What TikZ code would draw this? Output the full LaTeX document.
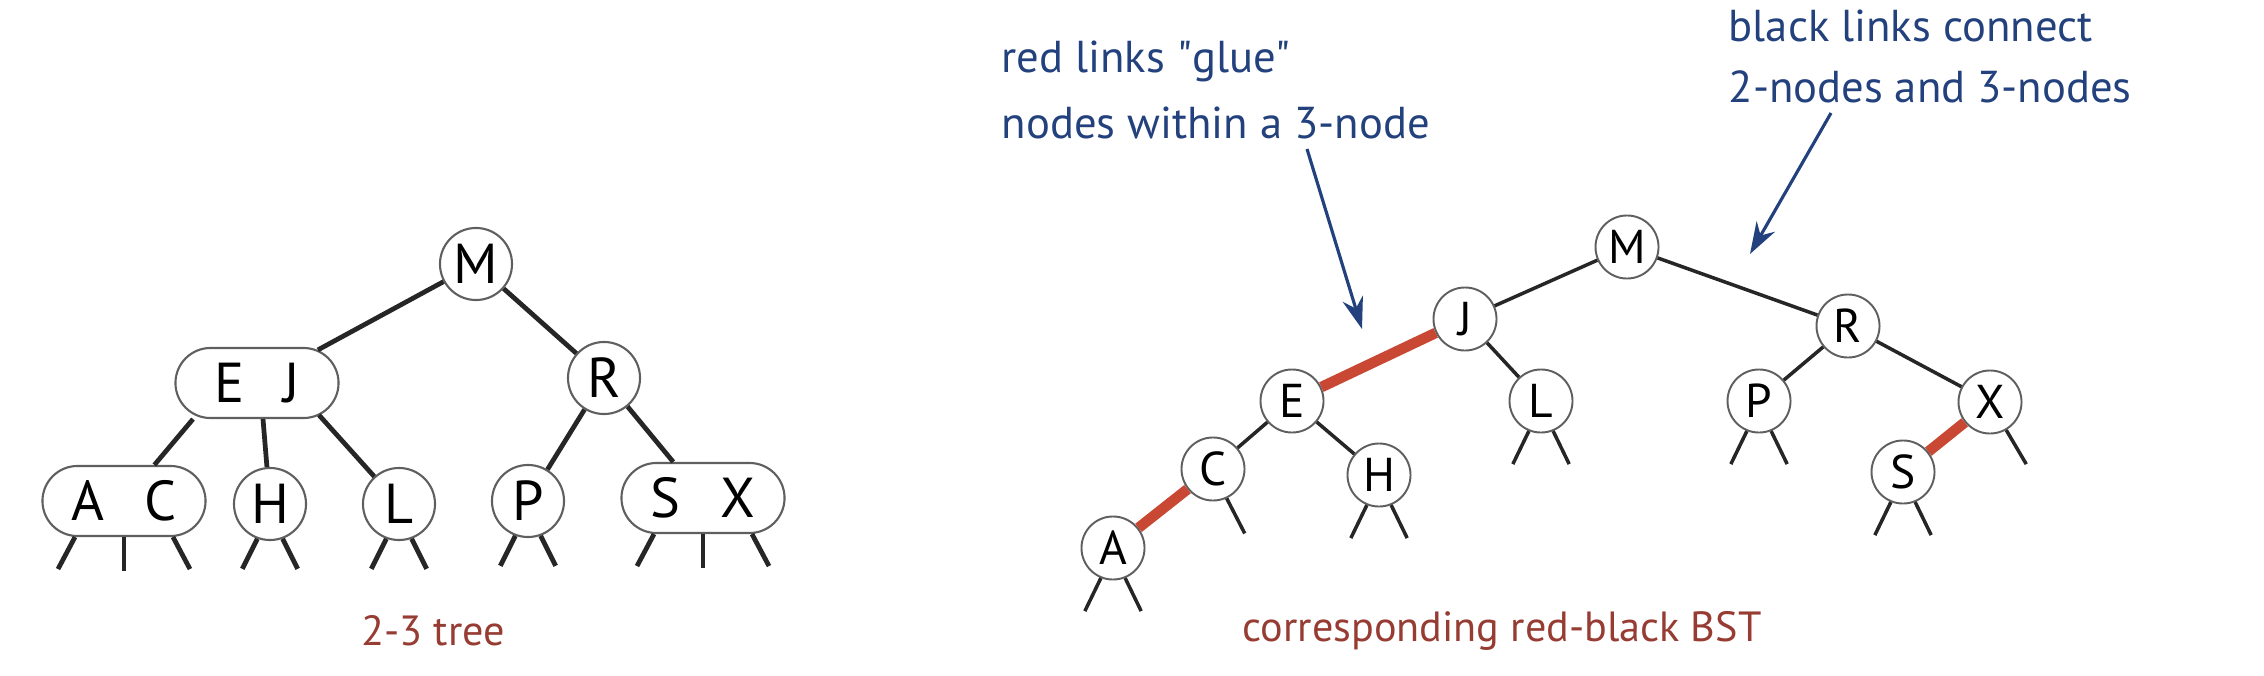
\documentclass[tikz,border=0pt]{standalone}
\usepackage{fontspec}
\setmainfont{PT Sans}
\usetikzlibrary{shapes.misc,arrows.meta,calc}

\definecolor{linkred}{RGB}{200,72,52}
\definecolor{capred}{RGB}{150,60,50}
\definecolor{noteblue}{RGB}{35,65,125}
\definecolor{rimgray}{RGB}{95,95,95}

\tikzset{
  twonode/.style={circle, draw=rimgray, line width=0.6pt, fill=white,
    minimum size=0.72cm, inner sep=0pt, font=\fontsize{16}{16}\selectfont},
  threenode/.style={rounded rectangle, draw=rimgray, line width=0.6pt, fill=white,
    minimum height=0.70cm, minimum width=1.63cm, inner sep=0pt,
    font=\fontsize{16}{16}\selectfont},
  bstnode/.style={circle, draw=rimgray, line width=0.55pt, fill=white,
    minimum size=0.63cm, inner sep=0pt, font=\fontsize{13.5}{13.5}\selectfont},
  treelink/.style={line width=1.35pt, black!85},
  blacklink/.style={line width=1.0pt, black!85},
  redlink/.style={line width=3pt, linkred},
  note/.style={text=noteblue, anchor=west, inner sep=0pt,
    font=\fontsize{12.7}{15}\selectfont},
  caption/.style={text=capred, inner sep=0pt, font=\fontsize{12}{14}\selectfont},
  pointer/.style={noteblue, line width=0.9pt, -{Stealth[length=9pt,width=6pt]}}
}

\begin{document}
\begin{tikzpicture}[x=0.01cm, y=-0.01cm]
  \useasboundingbox (0,0) rectangle (2264,676);

  % 2-3 tree
  \node[twonode]   (M)  at (476,264) {M};
  \node[threenode] (EJ) at (257,383) {E\hspace{0.7em}J};
  \node[twonode]   (R)  at (604,378) {R};
  \node[threenode] (AC) at (124,501) {A\hspace{0.7em}C};
  \node[twonode]   (H)  at (270,504) {H};
  \node[twonode]   (L)  at (399,504) {L};
  \node[twonode]   (P)  at (528,501) {P};
  \node[threenode] (SX) at (703,498) {S\hspace{0.7em}X};

  \draw[treelink] (M) -- (EJ);
  \draw[treelink] (M) -- (R);
  \draw[treelink] ($(EJ.south)+(-64,0)$) -- (AC);
  \draw[treelink] ($(EJ.south)+(6,0)$) -- (H);
  \draw[treelink] ($(EJ.south)+(62,-4)$) -- (L);
  \draw[treelink] (R) -- (P);
  \draw[treelink] (R) -- (SX);

  % leere Verweise
  \foreach \n in {AC,SX} {
    \draw[treelink] ($(\n.south)+(-49,0)$) -- ++(-17,32);
    \draw[treelink] (\n.south) -- ++(0,34);
    \draw[treelink] ($(\n.south)+(49,0)$) -- ++(17,32);
  }
  \foreach \n in {H,L,P} {
    \draw[treelink] (\n.-110) -- ++(-15,30);
    \draw[treelink] (\n.-70) -- ++(15,30);
  }

  \node[caption] (cap23) at (433,631) {2-3 tree};

  % red-black BST
  \node[bstnode] (m) at (1627,247) {M};
  \node[bstnode] (j) at (1465,319) {J};
  \node[bstnode] (r) at (1848,326) {R};
  \node[bstnode] (e) at (1292,401) {E};
  \node[bstnode] (l) at (1541,401) {L};
  \node[bstnode] (p) at (1759,401) {P};
  \node[bstnode] (x) at (1990,402) {X};
  \node[bstnode] (c) at (1213,469) {C};
  \node[bstnode] (h) at (1379,475) {H};
  \node[bstnode] (s) at (1903,472) {S};
  \node[bstnode] (a) at (1113,548) {A};

  \draw[blacklink] (m) -- (j);
  \draw[blacklink] (m) -- (r);
  \draw[redlink]   (j) -- (e);
  \draw[blacklink] (j) -- (l);
  \draw[blacklink] (r) -- (p);
  \draw[blacklink] (r) -- (x);
  \draw[blacklink] (e) -- (c);
  \draw[blacklink] (e) -- (h);
  \draw[redlink]   (c) -- (a);
  \draw[redlink]   (x) -- (s);

  \foreach \n in {a,h,l,p,s} {
    \draw[blacklink] (\n.-112) -- ++(-16,33);
    \draw[blacklink] (\n.-68) -- ++(16,33);
  }
  \draw[blacklink] (c.-65) -- ++(18,35);
  \draw[blacklink] (x.-60) -- ++(20,34);

  \node[caption] (caprb) at (1502,631) {corresponding red-black BST};

  % Anmerkungen
  \node[note] (glue1) at (1001,61)  {red links \textquotedbl glue\textquotedbl};
  \node[note] (glue2) at (1001,123) {nodes within a 3-node};
  \node[note] (conn1) at (1728,26)  {black links connect};
  \node[note] (conn2) at (1728,87)  {2-nodes and 3-nodes};

  \coordinate (gluefrom) at (1307,149);
  \coordinate (glueto)   at (1362,329);
  \coordinate (connfrom) at (1831,113);
  \coordinate (connto)   at (1750,254);
  \draw[pointer] (gluefrom) -- (glueto);
  \draw[pointer] (connfrom) -- (connto);
\end{tikzpicture}
\end{document}
